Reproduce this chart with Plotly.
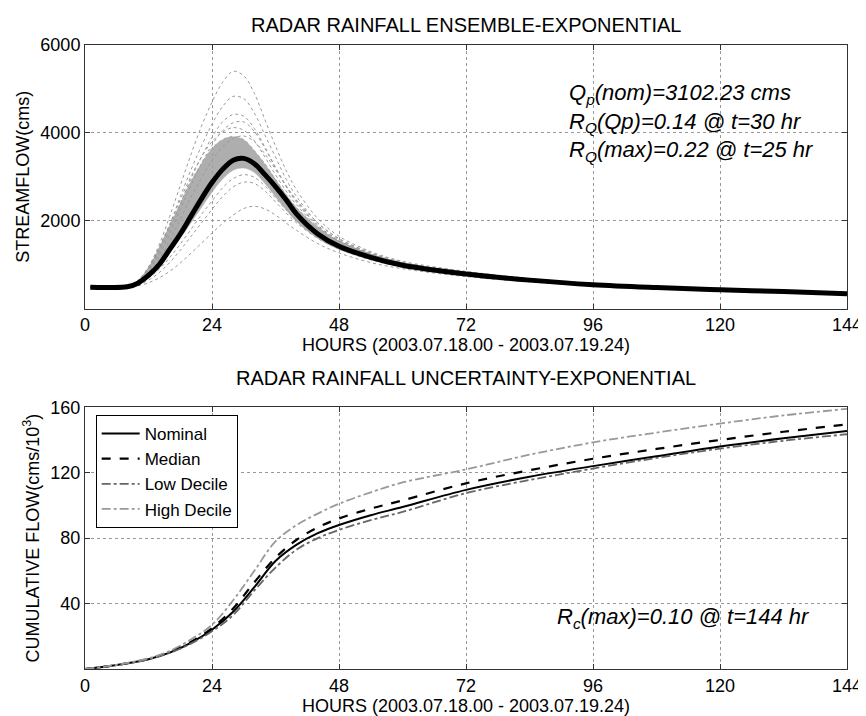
import plotly.graph_objects as go

# ---------------- data: top panel (streamflow, cms) ----------------
hours = [1, 4, 8, 10, 12, 14, 16, 18, 20, 22, 24, 26, 28, 30, 32, 34, 36, 38, 40,
         44, 48, 54, 60, 72, 84, 96, 108, 120, 132, 144]
nominal_q = [490, 485, 500, 580, 760, 1000, 1350, 1700, 2100, 2500, 2870, 3170, 3380, 3420,
             3300, 3050, 2780, 2480, 2150, 1700, 1420, 1170, 990, 790, 650, 545, 480, 430, 390, 340]
band_upper = [495, 490, 520, 650, 950, 1400, 1900, 2400, 2900, 3300, 3650, 3850, 3920, 3850,
              3600, 3300, 2950, 2600, 2300, 1850, 1550, 1250, 1050, 820, 670, 560, 490, 440, 395, 345]
band_lower = [485, 480, 495, 560, 720, 950, 1250, 1600, 1950, 2300, 2650, 2950, 3150, 3200,
              3100, 2850, 2550, 2250, 1980, 1600, 1350, 1120, 960, 770, 635, 535, 470, 425, 385, 335]
member_a = [490, 485, 510, 640, 950, 1450, 2100, 2800, 3500, 4150, 4700, 5150, 5400, 5300,
            4900, 4300, 3700, 3150, 2700, 2050, 1650, 1300, 1080, 850, 690, 570, 500, 445, 400, 350]
member_b = [490, 485, 505, 620, 900, 1350, 1900, 2550, 3150, 3700, 4200, 4600, 4830, 4780,
            4450, 3950, 3450, 2950, 2550, 1950, 1600, 1270, 1060, 840, 680, 565, 495, 440, 397, 348]
member_c = [490, 485, 505, 610, 870, 1280, 1800, 2380, 2950, 3450, 3900, 4250, 4420, 4380,
            4100, 3680, 3220, 2800, 2450, 1900, 1560, 1250, 1045, 830, 675, 562, 493, 438, 395, 346]
member_d = [490, 485, 503, 600, 840, 1220, 1700, 2250, 2800, 3300, 3720, 4050, 4230, 4250,
            4030, 3650, 3200, 2780, 2420, 1880, 1540, 1240, 1040, 825, 672, 560, 492, 437, 394, 345]
member_e = [490, 485, 495, 540, 650, 820, 1050, 1330, 1640, 1950, 2260, 2550, 2770, 2880,
            2850, 2680, 2430, 2180, 1950, 1600, 1360, 1110, 950, 760, 630, 530, 470, 425, 387, 338]
member_f = [490, 485, 490, 520, 590, 700, 850, 1040, 1260, 1490, 1720, 1940, 2130, 2280,
            2330, 2270, 2130, 1950, 1780, 1480, 1270, 1050, 910, 730, 610, 520, 462, 420, 382, 335]
member_g = [490, 485, 498, 560, 700, 900, 1160, 1470, 1800, 2140, 2450, 2750, 2960, 3050,
            2990, 2790, 2520, 2250, 2010, 1640, 1390, 1130, 960, 765, 632, 532, 471, 426, 388, 339]
member_h = [490, 485, 506, 630, 920, 1380, 1920, 2480, 3000, 3450, 3800, 4020, 4120, 4060,
            3820, 3450, 3050, 2680, 2360, 1860, 1530, 1240, 1040, 825, 672, 560, 492, 437, 394, 345]
member_i = [490, 485, 500, 590, 800, 1120, 1550, 2030, 2530, 2980, 3380, 3680, 3870, 3930,
            3800, 3520, 3170, 2800, 2470, 1950, 1590, 1270, 1055, 835, 678, 563, 494, 439, 396, 346]
members = [member_a, member_b, member_c, member_d, member_e, member_f, member_g, member_h, member_i]

# ---------------- data: bottom panel (cumulative flow, cms/10^3) ----------------
hours_c = [0, 4, 8, 12, 16, 20, 24, 28, 32, 36, 40, 44, 48, 54, 60, 72, 84, 96, 108, 120, 132, 144]
cum_nominal = [0, 1.5, 3.5, 6, 10, 16, 24, 35, 50, 66, 76, 83, 88, 94, 99, 109.5, 117.5, 124, 130, 136, 141, 145.5]
cum_median = [0, 1.5, 3.5, 6.2, 10.5, 16.5, 25, 37, 53, 68, 79, 86.5, 92, 98, 103, 113.5, 121.5, 128.5, 134.5, 140, 145, 149.5]
cum_low = [0, 1.5, 3.4, 5.9, 9.8, 15.5, 23, 33, 48, 62, 73, 80, 85, 91, 96, 107.5, 115.5, 122.5, 129, 134.7, 139.5, 143.5]
cum_high = [0, 1.6, 3.7, 6.5, 11, 18, 27, 42, 60, 78, 88, 95, 101, 108, 114, 122, 131, 138.5, 144.5, 150, 155, 159]

x_ticks = [0, 24, 48, 72, 96, 120, 144]
top_y_ticks = [2000, 4000, 6000]
bot_y_ticks = [40, 80, 120, 160]

REG = "Liberation Sans, Arial, sans-serif"

fig = go.Figure()

# band of dense ensemble members
fig.add_trace(go.Scatter(x=hours, y=band_lower, mode="lines", line=dict(color="#b0b0b0", width=0.5, shape="spline"),
                         showlegend=False, xaxis="x", yaxis="y", hoverinfo="skip"))
fig.add_trace(go.Scatter(x=hours, y=band_upper, mode="lines", fill="tonexty", fillcolor="rgba(160,160,160,0.85)",
                         line=dict(color="#a0a0a0", width=0.8, dash="dot", shape="spline"),
                         showlegend=False, xaxis="x", yaxis="y", hoverinfo="skip"))
for m in members:
    fig.add_trace(go.Scatter(x=hours, y=m, mode="lines", line=dict(color="#9a9a9a", width=1, dash="dot", shape="spline"),
                             showlegend=False, xaxis="x", yaxis="y", hoverinfo="skip"))
fig.add_trace(go.Scatter(x=hours, y=nominal_q, mode="lines", line=dict(color="black", width=5, shape="spline"),
                         showlegend=False, xaxis="x", yaxis="y"))

# bottom panel
fig.add_trace(go.Scatter(x=hours_c, y=cum_nominal, name="Nominal", mode="lines",
                         line=dict(color="black", width=2, shape="spline"), xaxis="x2", yaxis="y2"))
fig.add_trace(go.Scatter(x=hours_c, y=cum_median, name="Median", mode="lines",
                         line=dict(color="black", width=2.2, dash="dash", shape="spline"), xaxis="x2", yaxis="y2"))
fig.add_trace(go.Scatter(x=hours_c, y=cum_low, name="Low Decile", mode="lines",
                         line=dict(color="#666666", width=1.8, dash="dashdot", shape="spline"), xaxis="x2", yaxis="y2"))
fig.add_trace(go.Scatter(x=hours_c, y=cum_high, name="High Decile", mode="lines",
                         line=dict(color="#999999", width=1.8, dash="dashdot", shape="spline"), xaxis="x2", yaxis="y2"))

axis_common = dict(showline=True, linecolor="#333", linewidth=1, mirror="ticks", ticks="inside", ticklen=5,
                   tickcolor="#333", showgrid=True, gridcolor="#999", griddash="dot", gridwidth=1,
                   zeroline=False, tickfont=dict(family=REG, size=18, color="black"))

x_title = "HOURS (2003.07.18.00 - 2003.07.19.24)"

fig.update_layout(
    width=866, height=716,
    margin=dict(l=77, r=17, t=37, b=52),
    paper_bgcolor="white", plot_bgcolor="white",
    xaxis=dict(domain=[0, 1], anchor="y", range=[0, 144], tickvals=x_ticks,
               title=dict(text=x_title, font=dict(family=REG, size=18, color="black"), standoff=4), **axis_common),
    yaxis=dict(domain=[0.5774, 1], anchor="x", range=[0, 6000], tickvals=top_y_ticks,
               title=dict(text="STREAMFLOW(cms)", font=dict(family=REG, size=18, color="black"), standoff=6), **axis_common),
    xaxis2=dict(domain=[0, 1], anchor="y2", range=[0, 144], tickvals=x_ticks,
                title=dict(text=x_title, font=dict(family=REG, size=18, color="black"), standoff=4), **axis_common),
    yaxis2=dict(domain=[0, 0.4195], anchor="x2", range=[0, 160], tickvals=bot_y_ticks,
                title=dict(text="CUMULATIVE FLOW(cms/10<sup>3</sup>)", font=dict(family=REG, size=18, color="black"), standoff=6),
                **axis_common),
    legend=dict(x=0.014, y=0.407, xanchor="left", yanchor="top", bgcolor="white", bordercolor="black", borderwidth=1,
                font=dict(family=REG, size=17, color="black"), traceorder="normal", tracegroupgap=0, itemwidth=38),
    showlegend=True,
)

fig.add_annotation(text="RADAR RAINFALL ENSEMBLE-EXPONENTIAL", xref="paper", yref="paper", x=0.5, y=1.0, yshift=20,
                   showarrow=False, yanchor="middle", font=dict(family=REG, size=20, color="black"))
fig.add_annotation(text="RADAR RAINFALL UNCERTAINTY-EXPONENTIAL", xref="paper", yref="paper", x=0.5, y=0.4195, yshift=29,
                   showarrow=False, yanchor="middle", font=dict(family=REG, size=20, color="black"))

ann_font = dict(family=REG, size=22, color="black", style="italic")
fig.add_annotation(text="Q<sub>p</sub>(nom)=3102.23 cms<br>R<sub>Q</sub>(Qp)=0.14 @ t=30 hr<br>R<sub>Q</sub>(max)=0.22 @ t=25 hr",
                   xref="x", yref="y", x=91.0, y=4230, xanchor="left", yanchor="middle", align="left",
                   showarrow=False, font=ann_font)
fig.add_annotation(text="R<sub>c</sub>(max)=0.10 @ t=144 hr", xref="x2", yref="y2", x=137.3, y=31,
                   xanchor="right", yanchor="middle", showarrow=False, font=ann_font)

fig.write_html("out.html")
